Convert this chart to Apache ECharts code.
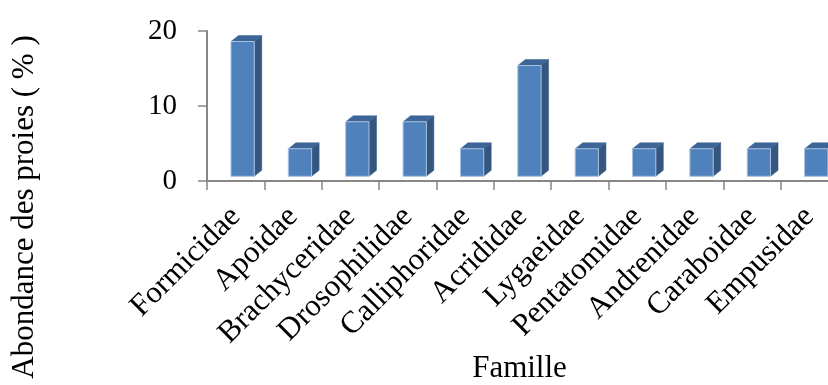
<!DOCTYPE html>
<html>
<head>
<meta charset="utf-8">
<script src="https://cdn.jsdelivr.net/npm/echarts@6/dist/echarts.min.js"></script>
<style>html,body{margin:0;padding:0;background:#fff;overflow:hidden;width:828px;height:385px}#c{width:840px;height:385px}</style>
</head>
<body>
<div id="c"></div>
<script>
var categories = ['Formicidae','Apoidae','Brachyceridae','Drosophilidae','Calliphoridae','Acrididae','Lygaeidae','Pentatomidae','Andrenidae','Caraboidae','Empusidae'];
var values = [18.6, 4.3, 7.9, 7.9, 4.3, 15.4, 4.3, 4.3, 4.3, 4.3, 4.3];
var yTicks = [0, 10, 20];
var yAxisTitle = 'Abondance des proies ( % )';
var xAxisTitle = 'Famille';

var FONT = '"Liberation Serif","Times New Roman",serif';
var chart = echarts.init(document.getElementById('c'), null, {renderer: 'canvas'});

function renderBar(params, api) {
  var idx = api.value(0), val = api.value(1);
  var base = api.coord([idx, 0]);
  var top = api.coord([idx, val]);
  var band = api.size([1, 0])[0];
  var floor = 4.7, dx = 7.5, dy = 6;
  var x0 = base[0] - band * 0.082;
  var x1 = x0 + band * 0.406;
  var yb = base[1] - floor;
  var yt = top[1];
  return {
    type: 'group',
    children: [
      {type: 'polygon', shape: {points: [[x1, yt], [x1 + dx, yt - dy], [x1 + dx, yb - dy], [x1, yb]]},
       style: {fill: '#34567F', stroke: '#34567F', lineWidth: 0.5}},
      {type: 'polygon', shape: {points: [[x0, yt], [x0 + dx, yt - dy], [x1 + dx, yt - dy], [x1, yt]]},
       style: {fill: '#3D6597', stroke: '#3D6597', lineWidth: 0.5}},
      {type: 'rect', shape: {x: x0, y: yt, width: x1 - x0, height: yb - yt},
       style: {fill: '#4F81BD', stroke: '#A9C2E0', lineWidth: 1}}
    ]
  };
}

var data = categories.map(function (c, i) { return [i, values[i]]; });

chart.setOption({
  animation: false,
  grid: {left: 207, top: 31, width: 631, height: 152, containLabel: false},
  xAxis: {
    type: 'category',
    data: categories,
    boundaryGap: true,
    name: xAxisTitle,
    nameLocation: 'middle',
    nameGap: 172,
    nameTextStyle: {fontFamily: FONT, fontSize: 31, color: '#000', padding: [0, 6, 0, 0]},
    axisLine: {lineStyle: {color: '#878787', width: 2}},
    axisTick: {show: true, length: 9, alignWithLabel: false, lineStyle: {color: '#878787', width: 1.5}},
    axisLabel: {rotate: 45, margin: 31, interval: 0, fontFamily: FONT, fontSize: 31, color: '#000'}
  },
  yAxis: {
    type: 'value',
    min: 0, max: 20, interval: 10,
    axisLine: {show: true, lineStyle: {color: '#878787', width: 2}},
    axisTick: {show: true, length: 9, lineStyle: {color: '#878787', width: 1.5}},
    splitLine: {show: false},
    axisLabel: {margin: 30, fontFamily: FONT, fontSize: 29, color: '#000',
      formatter: function (v) { return yTicks.indexOf(v) >= 0 ? String(v) : ''; }}
  },
  graphic: [{
    type: 'text', x: 25, y: 207, rotation: Math.PI / 2,
    style: {text: yAxisTitle, font: '31px ' + FONT, fill: '#000', align: 'center', verticalAlign: 'middle'}
  }],
  series: [{
    type: 'custom',
    renderItem: renderBar,
    data: data,
    encode: {x: 0, y: 1},
    clip: false
  }]
});
</script>
</body>
</html>
